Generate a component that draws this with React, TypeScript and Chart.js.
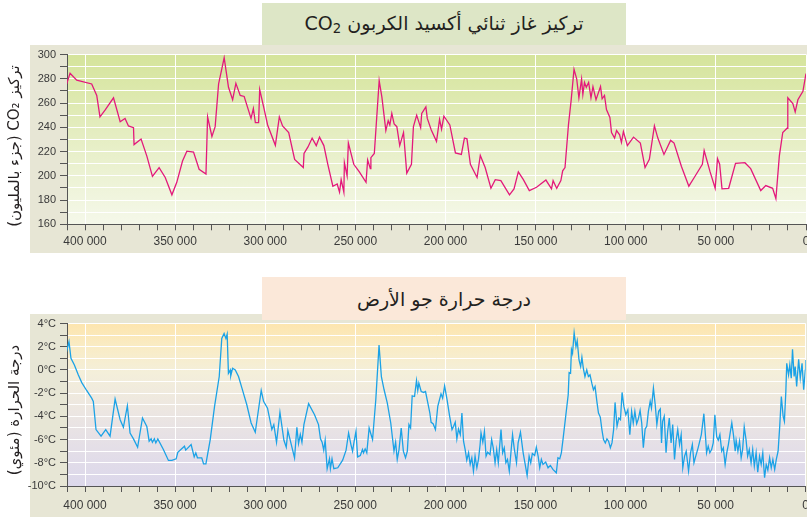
import React, { useEffect, useRef } from "react";
import { Chart, registerables } from "chart.js";

Chart.register(...registerables);

// ---------- DATA ----------
const co2Title = "تركيز غاز ثنائي أكسيد الكربون";
const co2AxisTitle = "تركيز CO₂ (جزء بالمليون)";
const tempTitle = "درجة حرارة جو الأرض";
const tempAxisTitle = "درجة الحرارة (مئوي)";

const xLabelValues = [400000, 350000, 300000, 250000, 200000, 150000, 100000, 50000, 0];
const co2LabelValues = [160, 180, 200, 220, 240, 260, 280, 300];
const tempLabelValues = [-10, -8, -6, -4, -2, 0, 2, 4];

const co2Age = [
  410200, 408300, 404600, 396300, 393500, 391700, 388900, 384200, 380500, 377800,
  375900, 373100, 372800, 368900, 365700, 362600, 358900, 355500, 351800, 349100,
  345900, 343500, 339800, 336700, 332900, 332000, 329600, 327800, 325900, 322800,
  320400, 318100, 316300, 313900, 311700, 307900, 306600, 305500, 303700, 303100,
  300900, 298700, 294400, 292200, 290400, 287000, 283700, 278900, 278500, 276300,
  274000, 271700, 269900, 267500, 265300, 262500, 260100, 258800, 257900, 256400,
  256100, 254600, 253900, 250900, 247800, 244100, 243200, 241700, 241400, 239500,
  236800, 235300, 233100, 231800, 230900, 229800, 228500, 227000, 225400, 223300,
  221500, 218900, 217800, 216000, 213800, 213200, 210900, 210100, 207900, 205000,
  203300, 202200, 200900, 197600, 194500, 191200, 189500, 188100, 186200, 182500,
  180700, 178000, 174800, 172400, 169300, 164500, 162000, 159600, 156800, 153500,
  149500, 144300, 141200, 140300, 138300, 136000, 135000, 133700, 131800, 130300,
  128700, 127200, 126000, 124500, 123800, 122900, 121900, 120600, 119300, 118200,
  116500, 114000, 113100, 111800, 110700, 108800, 107900, 106200, 105100, 103400,
  102400, 101300, 99100, 95700, 91900, 89300, 86900, 84100, 82200, 78800,
  75100, 73200, 69100, 65000, 62000, 57500, 56500, 53200, 50400, 49100,
  47900, 46600, 42900, 39100, 33900, 30700, 25100, 22300, 18500, 16700,
  14800, 12900, 10500, 10100, 7300, 6000, 4500, 1700, 0,
];
const co2Ppm = [
  275.7, 284.6, 278.9, 275.7, 266.2, 248.6, 254.1, 264.3, 244.6, 247.3,
  241.1, 239.7, 225.7, 230.3, 216.2, 199.5, 206.8, 198.6, 184.3, 194.6,
  212.2, 220.3, 219.5, 205.4, 201.4, 248.6, 232.4, 240.5, 275.7, 297.3,
  273.0, 262.7, 276.2, 266.2, 265.4, 247.3, 255.4, 243.8, 243.8, 271.1,
  256.8, 241.9, 225.1, 248.6, 241.1, 235.7, 213.5, 206.8, 218.4, 223.8,
  231.1, 224.9, 231.9, 224.9, 209.5, 191.4, 193.2, 186.5, 196.8, 186.5,
  210.8, 200.0, 227.0, 209.5, 203.2, 194.6, 213.0, 205.9, 214.9, 218.4,
  278.4, 264.9, 237.3, 245.4, 241.9, 251.4, 242.7, 240.5, 224.9, 235.7,
  202.2, 209.5, 240.5, 250.0, 239.7, 251.4, 256.8, 247.3, 237.8, 228.4,
  246.5, 238.4, 249.2, 241.9, 218.9, 217.6, 231.1, 230.5, 209.5, 198.6,
  216.8, 206.8, 189.7, 196.8, 196.0, 184.3, 189.2, 203.2, 196.8, 187.8,
  190.5, 196.5, 189.2, 196.0, 189.6, 196.0, 204.1, 206.8, 241.9, 262.2,
  287.8, 279.7, 264.3, 279.7, 267.0, 277.0, 273.0, 277.0, 264.3, 273.5,
  262.7, 273.5, 263.5, 266.2, 254.6, 248.1, 235.7, 231.1, 237.3, 233.8,
  227.6, 236.5, 224.9, 231.9, 227.0, 206.8, 213.5, 241.1, 231.1, 217.6,
  229.2, 227.0, 207.6, 191.4, 198.6, 209.5, 220.8, 203.2, 189.7, 214.1,
  209.5, 189.2, 189.7, 210.3, 210.8, 205.9, 187.8, 191.9, 189.7, 181.1,
  216.2, 235.7, 239.2, 264.3, 259.5, 252.7, 262.7, 269.7, 284.3,
];

const tempAge = [
  410500, 408900, 407800, 405900, 403700, 401800, 399100, 396300, 395400, 393900,
  391100, 388500, 386100, 383300, 380500, 378700, 376500, 375000, 373100, 370800,
  368100, 365700, 364400, 363300, 362600, 361500, 360700, 359600, 356500, 353700,
  351800, 349400, 348500, 344800, 344100, 341100, 339400, 338500, 337600, 335200,
  334200, 332900, 330500, 328100, 325500, 324100, 322800, 321800, 321100, 320400,
  319400, 319100, 318100, 316600, 314800, 312900, 310200, 307800, 305500, 302200,
  300900, 298700, 296300, 295200, 293700, 291800, 289600, 288300, 287400, 285500,
  283700, 282400, 281500, 280500, 279600, 278500, 275900, 272600, 270400, 269300,
  268400, 267500, 266700, 265600, 264300, 263800, 262900, 261900, 259700, 257000,
  255100, 253700, 252400, 251500, 250600, 249600, 248700, 247200, 246000, 245400,
  244500, 243600, 242300, 240400, 238600, 236800, 235500, 234000, 232200, 230300,
  228500, 227600, 226700, 225700, 224500, 223300, 222100, 221100, 220200, 219300,
  218400, 217100, 216000, 215300, 214700, 213400, 212000, 211000, 209700, 208600,
  207900, 206800, 205500, 204200, 202400, 201500, 200400, 199100, 197600, 196300,
  195400, 194500, 193600, 192700, 191700, 190800, 189900, 189000, 188100, 187100,
  186200, 185300, 184400, 183500, 182500, 181600, 180700, 180200, 179200, 178300,
  177400, 176500, 175200, 174300, 173400, 172400, 171500, 170600, 170000, 169100,
  168200, 167300, 166400, 165500, 164500, 163600, 162700, 161800, 160500, 159600,
  158300, 156800, 155900, 154600, 153500, 152600, 151700, 150400, 149500, 148500,
  147600, 146700, 145800, 144300, 143000, 141700, 140300, 138400, 137500, 136500,
  135600, 134700, 133200, 131800, 131300, 130500, 130000, 129400, 128500, 127500,
  126800, 125800, 124900, 124200, 123400, 122500, 121500, 120600, 119700, 118700,
  117800, 116900, 115900, 115000, 114000, 113100, 112200, 111200, 110300, 109400,
  108400, 107500, 106600, 105800, 104700, 103700, 102800, 101900, 100900, 99800,
  98700, 97600, 96600, 95700, 94800, 93800, 92900, 91900, 91000, 90100,
  89100, 88200, 87300, 86300, 85600, 84500, 83500, 82600, 81600, 80700,
  80000, 79400, 78500, 77500, 76600, 75700, 74700, 73800, 72800, 71900,
  71000, 70000, 69100, 68200, 67200, 66300, 65000, 63900, 62900, 62000,
  61000, 59700, 57900, 56500, 55600, 55000, 54100, 53200, 52200, 51300,
  50400, 49400, 48500, 47600, 46600, 45700, 44700, 43800, 42900, 41900,
  41000, 40100, 39100, 38600, 37600, 36700, 35800, 35000, 34100, 33100,
  32200, 31300, 30300, 29400, 28500, 27500, 26600, 25600, 24700, 23800,
  22800, 21900, 21000, 20000, 19100, 18200, 17200, 16300, 15300, 14400,
  13500, 12500, 11800, 11000, 10500, 9500, 8800, 8000, 7300, 6400,
  5800, 5000, 3900, 3000, 2000, 1100, 200, 0,
];
const tempC = [
  1.43, 2.43, 1.0, 0.43, -0.43, -1.09, -1.77, -2.43, -2.71, -5.14,
  -5.71, -5.14, -5.71, -2.51, -4.29, -4.94, -3.09, -5.43, -5.94, -6.66,
  -4.14, -4.86, -6.14, -5.94, -6.23, -5.94, -6.29, -5.94, -6.86, -7.8,
  -7.8, -7.66, -7.09, -6.57, -6.91, -6.43, -7.49, -7.14, -7.57, -7.57,
  -8.09, -8.09, -6.0, -3.14, -0.57, 2.71, 3.14, 2.71, 3.09, -0.29,
  0.0, -0.51, 0.14, 0.0, -0.57, -1.57, -3.0, -4.57, -5.37, -1.77,
  -2.71, -3.29, -5.14, -4.71, -6.23, -3.66, -6.06, -6.66, -5.23, -6.43,
  -7.57, -4.94, -6.34, -5.57, -6.23, -4.71, -2.91, -3.86, -4.71, -5.94,
  -6.23, -6.91, -6.06, -8.51, -7.66, -8.51, -7.66, -8.51, -8.43, -7.77,
  -6.91, -5.43, -6.43, -7.0, -6.14, -5.29, -7.49, -7.37, -6.86, -7.14,
  -6.8, -7.14, -5.0, -6.0, -2.57, 2.14, -0.57, -1.71, -2.86, -4.57,
  -7.0, -6.23, -7.71, -6.86, -5.0, -7.0, -7.57, -7.0, -4.71, -5.0,
  -2.23, -2.29, -0.91, -1.77, -1.14, -1.86, -1.94, -1.86, -2.86, -3.71,
  -4.51, -4.63, -5.14, -3.14, -2.06, -2.43, -1.37, -2.51, -4.0, -5.14,
  -4.86, -4.51, -5.94, -5.09, -5.57, -3.71, -6.14, -6.86, -7.77, -7.14,
  -8.14, -7.57, -8.71, -7.43, -8.43, -7.71, -6.43, -5.43, -6.23, -5.29,
  -7.43, -7.09, -7.29, -6.0, -6.71, -8.0, -6.86, -8.0, -6.86, -5.14,
  -7.14, -6.71, -8.0, -7.71, -8.71, -7.14, -5.57, -6.71, -8.0, -6.29,
  -5.37, -7.14, -7.94, -9.09, -7.43, -8.0, -7.2, -7.37, -6.66, -7.43,
  -8.43, -7.71, -8.14, -7.94, -8.43, -8.23, -8.57, -8.86, -7.57, -7.66,
  -7.14, -6.0, -4.0, -2.14, -0.23, -0.29, 1.77, 1.43, 3.2, 2.0,
  2.51, 0.86, 0.29, 1.09, 0.14, -0.57, 0.0, -0.57, -0.43, -1.14,
  -1.71, -1.43, -2.71, -3.71, -4.06, -5.14, -6.0, -6.29, -5.94, -6.14,
  -6.71, -6.29, -5.14, -2.8, -4.86, -4.14, -4.29, -1.94, -3.14, -3.86,
  -3.43, -5.57, -3.57, -4.57, -3.57, -4.63, -4.23, -3.49, -4.57, -6.71,
  -5.09, -4.86, -3.57, -2.71, -3.29, -1.57, -3.0, -4.71, -3.57, -3.37,
  -6.29, -4.43, -4.0, -7.14, -5.29, -4.14, -6.29, -4.71, -7.71, -6.06,
  -5.14, -6.43, -5.57, -8.43, -7.43, -7.0, -8.71, -7.14, -6.43, -8.0,
  -7.43, -6.71, -5.57, -3.77, -5.71, -7.14, -6.57, -7.14, -6.86, -6.29,
  -3.86, -5.77, -6.06, -5.57, -7.0, -6.71, -8.14, -7.14, -6.43, -5.43,
  -4.57, -5.57, -7.0, -6.06, -7.0, -6.14, -7.57, -6.86, -4.91, -6.0,
  -7.43, -6.86, -8.0, -6.86, -8.29, -7.14, -8.8, -7.43, -8.14, -7.14,
  -9.29, -8.14, -8.63, -7.57, -8.43, -7.71, -8.57, -7.71, -7.0, -4.86,
  -2.29, -4.0, -4.43, -1.86, 0.57, -0.43, 0.43, -0.71, 1.77, -0.57,
  0.29, -1.43, 0.91, -0.71, 0.57, -1.71, 0.0, 0.86,
];

// ---------- HELPERS ----------
const TICK_FONT = "'Liberation Sans', Arial, sans-serif";
const AR_FONT = "'DejaVu Sans', sans-serif";

function fmtThousands(v: number): string {
  return String(v).replace(/\B(?=(\d{3})+(?!\d))/g, " ");
}

const bgPlugin = {
  id: "bgPanel",
  beforeDraw(chart: any, _args: any, opts: any) {
    const { ctx, chartArea, width, height } = chart;
    ctx.save();
    ctx.fillStyle = opts.panel;
    ctx.fillRect(30, 0, width - 30, height);
    const g = ctx.createLinearGradient(0, chartArea.top, 0, chartArea.bottom);
    (opts.stops as [number, string][]).forEach(([p, c]) => g.addColorStop(p, c));
    ctx.fillStyle = g;
    ctx.fillRect(chartArea.left, chartArea.top, chartArea.right - chartArea.left, chartArea.bottom - chartArea.top);
    ctx.restore();
  },
};

const yTitlePlugin = {
  id: "yTitleRtl",
  afterDraw(chart: any, _args: any, opts: any) {
    const { ctx } = chart;
    ctx.save();
    ctx.translate(opts.x, opts.y);
    ctx.rotate(-Math.PI / 2);
    ctx.direction = "rtl";
    ctx.textAlign = "center";
    ctx.textBaseline = "middle";
    ctx.font = opts.font;
    ctx.fillStyle = "#231f20";
    ctx.fillText(opts.text, 0, 0);
    ctx.restore();
  },
};

function buildConfig(p: {
  ages: number[];
  values: number[];
  color: string;
  yMin: number;
  yMax: number;
  yStep: number;
  yLabels: number[];
  ySuffix: string;
  padTop: number;
  xHeight: number;
  xPad: number;
  stops: [number, string][];
  title: string;
  titleY: number;
}): any {
  return {
    type: "line",
    data: {
      datasets: [
        {
          data: p.ages.map((a, i) => ({ x: a, y: p.values[i] })),
          borderColor: p.color,
          borderWidth: 1.3,
          pointRadius: 0,
          tension: 0,
          fill: false,
        },
      ],
    },
    options: {
      animation: false,
      responsive: false,
      maintainAspectRatio: false,
      layout: { padding: { top: p.padTop, right: 9, left: 0, bottom: 0 } },
      plugins: {
        legend: { display: false },
        tooltip: { enabled: false },
        bgPanel: { panel: "#e7e6d5", stops: p.stops },
        yTitleRtl: { text: p.title, x: 15, y: p.titleY, font: `15px ${AR_FONT}` },
      },
      scales: {
        x: {
          type: "linear",
          min: 0,
          max: 410000,
          reverse: true,
          afterFit: (s: any) => {
            s.height = p.xHeight;
          },
          ticks: {
            stepSize: 10000,
            autoSkip: false,
            maxRotation: 0,
            padding: p.xPad,
            color: "#3a3a3a",
            font: { family: TICK_FONT, size: 12 },
            callback: (v: any) => (xLabelValues.includes(Number(v)) ? fmtThousands(Number(v)) : ""),
          },
          grid: {
            color: (c: any) => (c.tick && c.tick.value % 50000 === 0 ? "#ffffff" : "rgba(0,0,0,0)"),
            tickColor: "#555555",
            tickLength: 6,
            lineWidth: 1,
          },
          border: { color: "#555555", width: 1 },
        },
        y: {
          min: p.yMin,
          max: p.yMax,
          afterFit: (s: any) => {
            s.width = 67;
          },
          ticks: {
            stepSize: p.yStep,
            autoSkip: false,
            padding: 4,
            color: "#3a3a3a",
            font: { family: TICK_FONT, size: 11, lineHeight: 1 },
            callback: (v: any) => (p.yLabels.includes(Number(v)) ? `${v}${p.ySuffix}` : ""),
          },
          grid: {
            color: "#ffffff",
            tickColor: "#555555",
            tickLength: 7,
            lineWidth: 1,
          },
          border: { color: "#555555", width: 1 },
        },
      },
    },
    plugins: [bgPlugin, yTitlePlugin],
  };
}

function ChartCanvas(props: { config: any; top: number; height: number }) {
  const ref = useRef<HTMLCanvasElement | null>(null);
  useEffect(() => {
    if (!ref.current) return;
    const chart = new Chart(ref.current, props.config);
    return () => chart.destroy();
  }, []);
  return (
    <canvas
      ref={ref}
      width={815}
      height={props.height}
      style={{ position: "absolute", left: 0, top: props.top, width: 815, height: props.height }}
    />
  );
}

const titleBoxBase: React.CSSProperties = {
  position: "absolute",
  left: 262,
  width: 364,
  height: 42,
  display: "flex",
  alignItems: "center",
  justifyContent: "center",
  direction: "rtl",
  fontFamily: AR_FONT,
  fontSize: 19,
  color: "#231f20",
  whiteSpace: "nowrap",
};

export default function App() {
  const co2Config = buildConfig({
    ages: co2Age,
    values: co2Ppm,
    color: "#e3197b",
    yMin: 160,
    yMax: 300,
    yStep: 10,
    yLabels: co2LabelValues,
    ySuffix: "",
    padTop: 6.7,
    xHeight: 28.7,
    xPad: 4,
    stops: [
      [0, "#d5e49b"],
      [0.5, "#e6eec4"],
      [1, "#f5f8ea"],
    ],
    title: co2AxisTitle,
    titleY: 101,
  });
  const tempConfig = buildConfig({
    ages: tempAge,
    values: tempC,
    color: "#1ba2e6",
    yMin: -10,
    yMax: 4,
    yStep: 1,
    yLabels: tempLabelValues,
    ySuffix: "°C",
    padTop: 8.7,
    xHeight: 31,
    xPad: 6,
    stops: [
      [0, "#fde5ae"],
      [0.15, "#f9ecc6"],
      [0.3, "#f4efda"],
      [0.55, "#ece6e2"],
      [0.85, "#e1dce9"],
      [1, "#dcd8eb"],
    ],
    title: tempAxisTitle,
    titleY: 96,
  });

  return (
    <div
      style={{
        position: "fixed",
        left: 0,
        top: 0,
        width: 807,
        height: 519,
        overflow: "hidden",
        background: "#ffffff",
      }}
    >
      <ChartCanvas config={co2Config} top={45} height={208} />
      <ChartCanvas config={tempConfig} top={314} height={203} />
      <div style={{ ...titleBoxBase, top: 3, background: "#dde6c6" }}>
        <span>
          {co2Title} CO<sub style={{ fontSize: "0.7em", verticalAlign: "-0.25em" }}>2</sub>
        </span>
      </div>
      <div style={{ ...titleBoxBase, top: 277, height: 43, background: "#fbe8d9" }}>
        <span>{tempTitle}</span>
      </div>
    </div>
  );
}
